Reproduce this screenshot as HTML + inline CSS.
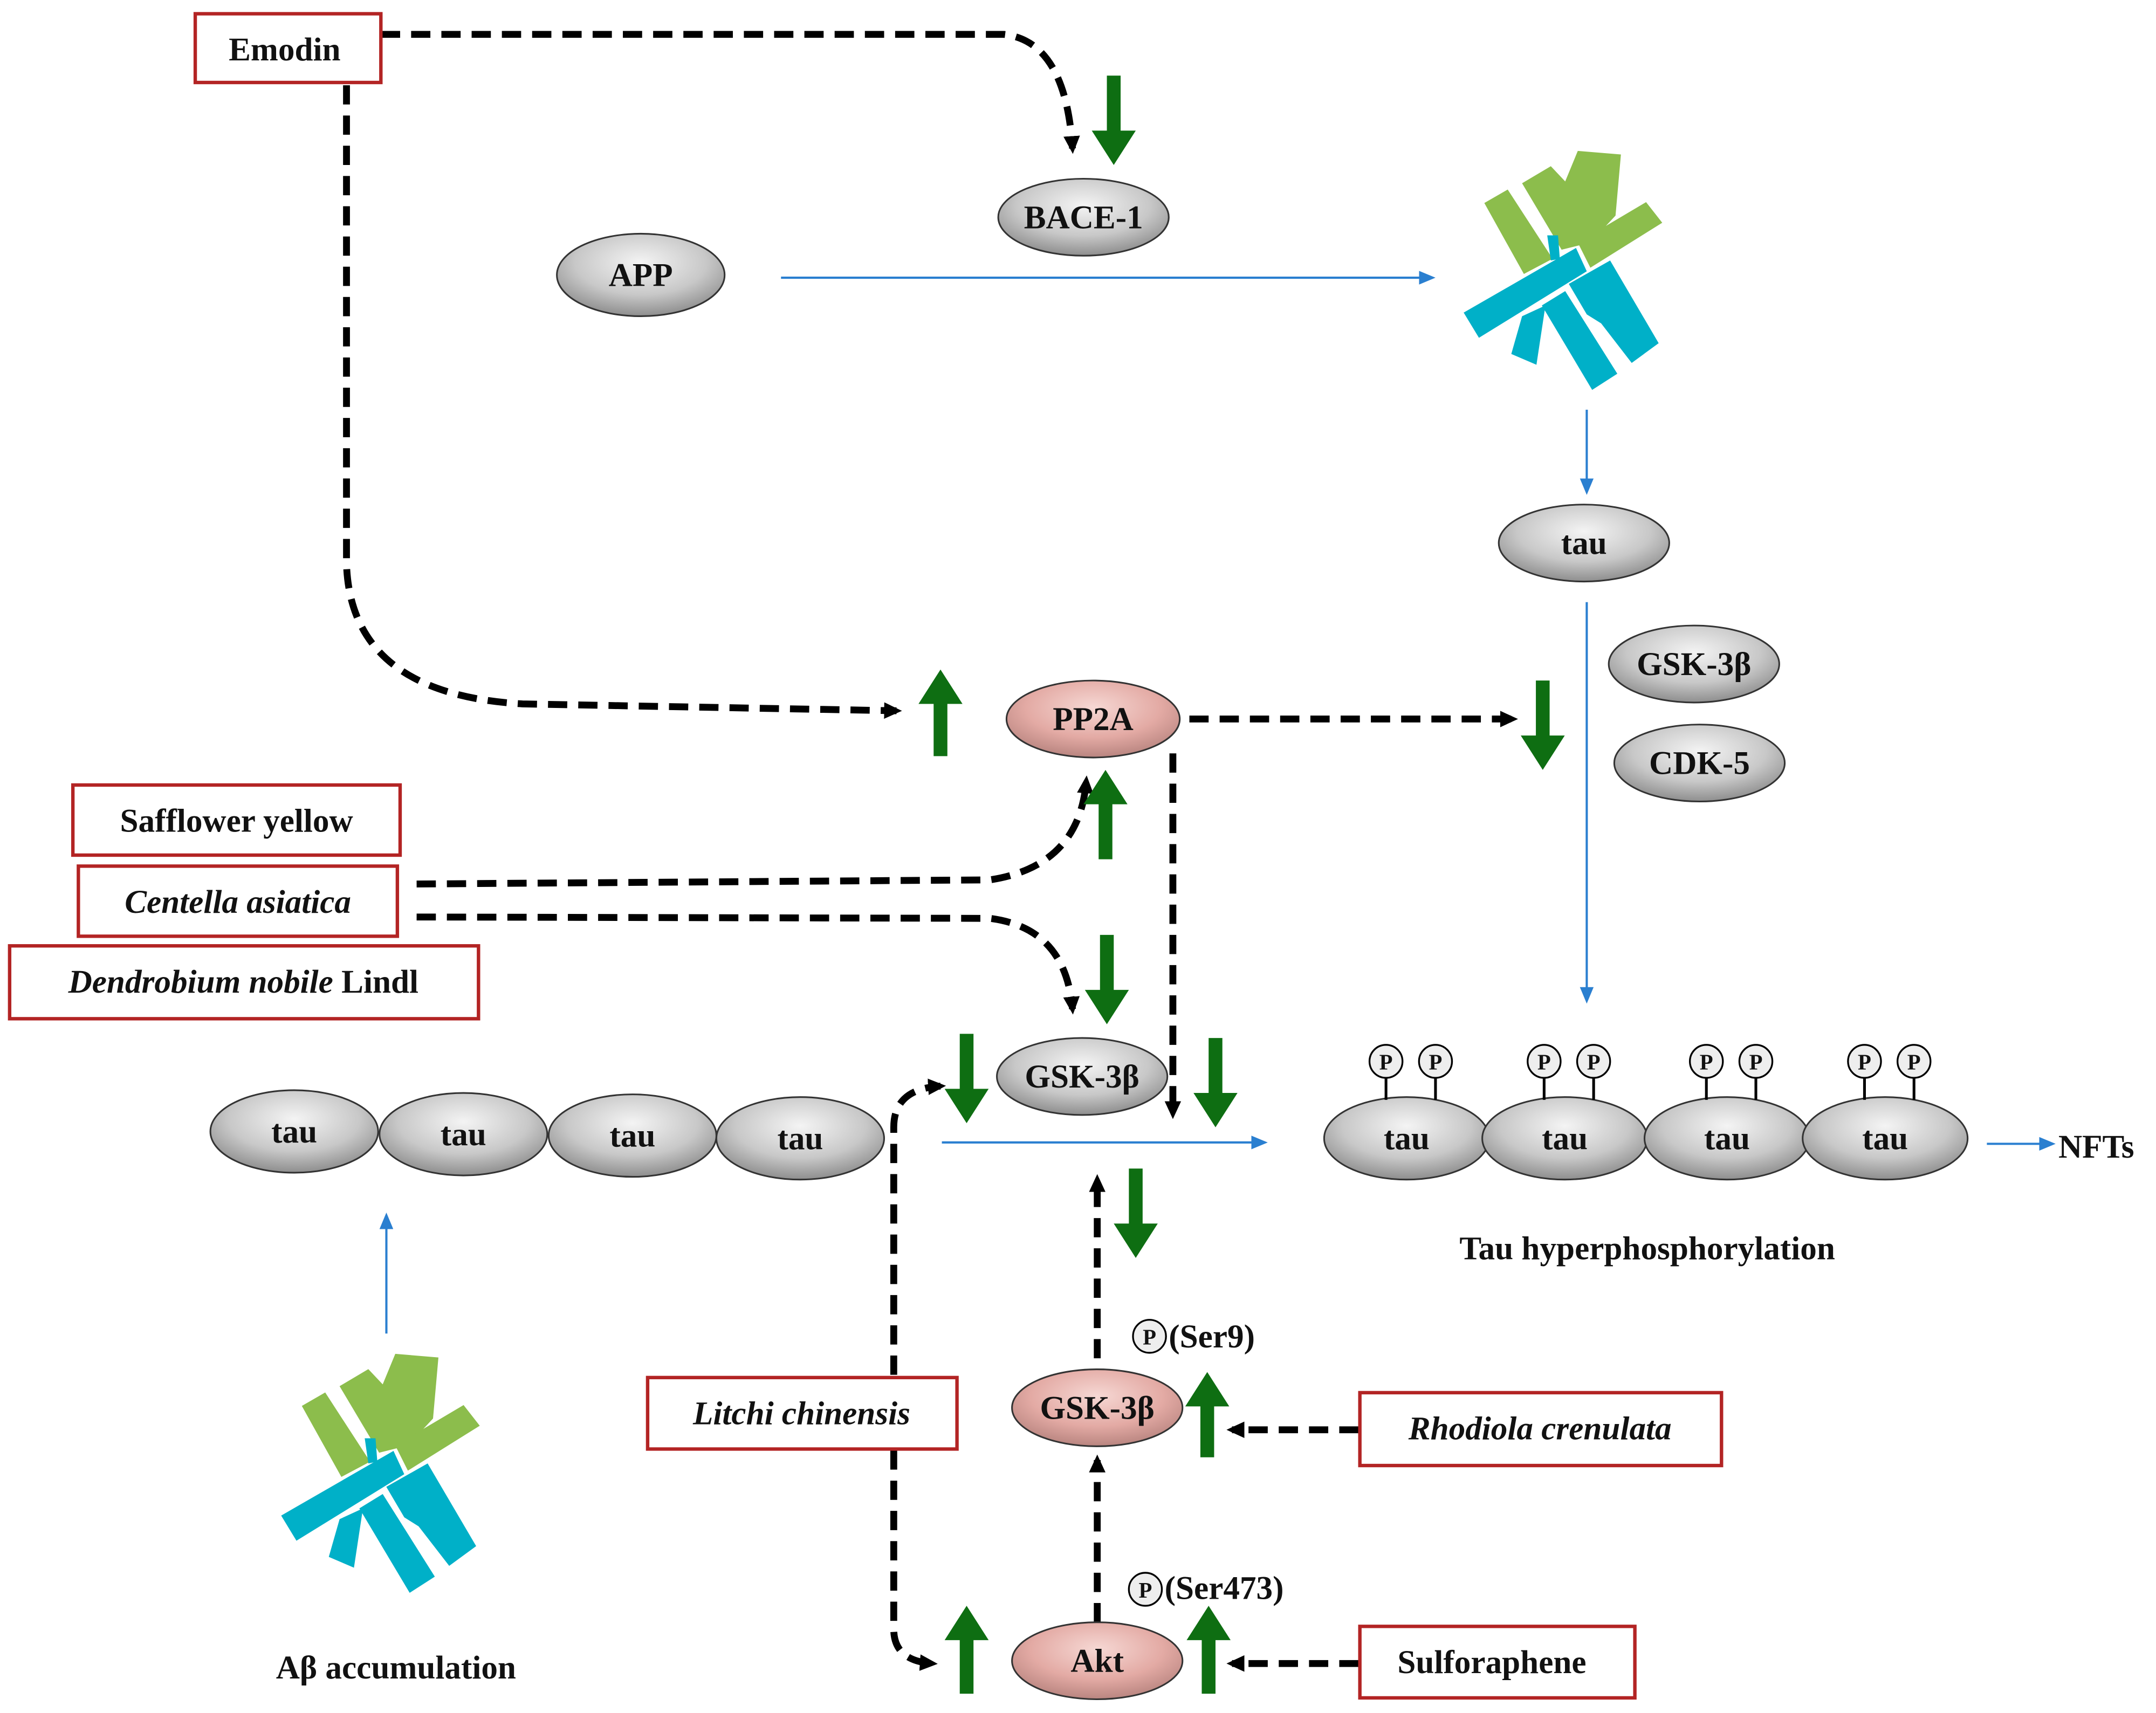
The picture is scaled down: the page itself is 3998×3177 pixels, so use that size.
<!DOCTYPE html>
<html><head><meta charset="utf-8"><style>
html,body{margin:0;padding:0;background:#fff}
svg{display:block}
text{font-family:"Liberation Serif",serif;font-weight:bold;fill:#111}
</style></head><body>
<svg width="3998" height="3177" viewBox="0 0 1568 1246" xmlns="http://www.w3.org/2000/svg">
<defs>
<radialGradient id="g" cx="50%" cy="35%" r="65%"><stop offset="0" stop-color="#f4f4f4"/><stop offset="0.6" stop-color="#c8c8c8"/><stop offset="1" stop-color="#8e8e8e"/></radialGradient>
<radialGradient id="pk" cx="50%" cy="35%" r="65%"><stop offset="0" stop-color="#f6d8d4"/><stop offset="0.6" stop-color="#e3aaa4"/><stop offset="1" stop-color="#b98580"/></radialGradient>
<marker id="ak" markerWidth="14" markerHeight="14" refX="9" refY="7" orient="auto" markerUnits="userSpaceOnUse"><path d="M0,1 L13,7 L0,13 z" fill="#000"/></marker>
<marker id="ab" markerWidth="12" markerHeight="10" refX="10" refY="5" orient="auto" markerUnits="userSpaceOnUse"><path d="M0,0 L12,5 L0,10 z" fill="#2a7fd0"/></marker>
<g id="agg">
<g transform="translate(1039,98) scale(0.1307)">
<polygon fill="#8cbd4c" points="310,380 440,305 690,690 530,775"/>
<polygon fill="#8cbd4c" points="520,270 680,175 760,260 830,90 1070,110 1040,450 900,600 740,640"/>
<polygon fill="#00b0c8" points="660,560 720,560 730,690 680,700"/>
<polygon fill="#8cbd4c" points="830,600 1210,375 1300,490 900,740"/>
<polygon fill="#00b0c8" points="195,990 820,630 880,760 280,1130"/>
<polygon fill="#00b0c8" points="460,1220 520,1010 650,950 600,1280"/>
<polygon fill="#00b0c8" points="630,950 760,870 1050,1330 910,1420"/>
<polygon fill="#00b0c8" points="780,830 1010,700 1280,1160 1130,1270 960,1050 880,1000"/>
</g>
</g>
</defs>

<use href="#agg"/>
<use href="#agg" transform="translate(-860,875)"/>

<g fill="none" stroke="#2a7fd0" stroke-width="1.6">
<line x1="568" y1="202" x2="1042" y2="202" marker-end="url(#ab)"/>
<line x1="1154" y1="298" x2="1154" y2="358" marker-end="url(#ab)"/>
<line x1="1154" y1="438" x2="1154" y2="728" marker-end="url(#ab)"/>
<line x1="685" y1="831" x2="920" y2="831" marker-end="url(#ab)"/>
<line x1="281" y1="970" x2="281" y2="884" marker-end="url(#ab)"/>
<line x1="1445" y1="832" x2="1493" y2="832" marker-end="url(#ab)"/>
</g>

<g fill="none" stroke="#000" stroke-width="5" stroke-dasharray="14,8" marker-end="url(#ak)">
<path d="M277,25 L730,25 Q775,30 780,108"/>
<path d="M252,62 L252,410 Q255,505 380,512 L652,517"/>
<path d="M865,523 L1100,523"/>
<path d="M303,643 L720,640 Q785,630 790,568"/>
<path d="M303,667 L720,668 Q775,675 780,734"/>
<path d="M853,548 L853,810"/>
<path d="M650,1000 L650,820 Q650,792 684,790"/>
<path d="M650,1055 L650,1185 Q650,1208 678,1210"/>
<path d="M798,988 L798,858"/>
<path d="M798,1180 L798,1062"/>
<path d="M988,1040 L896,1040"/>
<path d="M988,1210 L896,1210"/>
</g>

<g fill="#0e6e12">
<polygon points="805,55 815,55 815,95 826,95 810,120 794,95 805,95"/>
<polygon points="679,550 689,550 689,512 700,512 684,487 668,512 679,512"/>
<polygon points="1117,495 1127,495 1127,535 1138,535 1122,560 1106,535 1117,535"/>
<polygon points="799,625 809,625 809,585 820,585 804,560 788,585 799,585"/>
<polygon points="800,680 810,680 810,720 821,720 805,745 789,720 800,720"/>
<polygon points="698,752 708,752 708,792 719,792 703,817 687,792 698,792"/>
<polygon points="879,755 889,755 889,795 900,795 884,820 868,795 879,795"/>
<polygon points="821,850 831,850 831,890 842,890 826,915 810,890 821,890"/>
<polygon points="873,1060 883,1060 883,1023 894,1023 878,998 862,1023 873,1023"/>
<polygon points="698,1232 708,1232 708,1193 719,1193 703,1168 687,1193 698,1193"/>
<polygon points="874,1232 884,1232 884,1193 895,1193 879,1168 863,1193 874,1193"/>
</g>

<g stroke="#333" stroke-width="1.2">
<ellipse cx="788" cy="158" rx="62" ry="28" fill="url(#g)"/>
<ellipse cx="466" cy="200" rx="61" ry="30" fill="url(#g)"/>
<ellipse cx="1152" cy="395" rx="62" ry="28" fill="url(#g)"/>
<ellipse cx="1232" cy="483" rx="62" ry="28" fill="url(#g)"/>
<ellipse cx="1236" cy="555" rx="62" ry="28" fill="url(#g)"/>
<ellipse cx="795" cy="523" rx="63" ry="28" fill="url(#pk)"/>
<ellipse cx="787" cy="783" rx="62" ry="28" fill="url(#g)"/>
<ellipse cx="214" cy="823" rx="61" ry="30" fill="url(#g)"/>
<ellipse cx="337" cy="825" rx="61" ry="30" fill="url(#g)"/>
<ellipse cx="460" cy="826" rx="61" ry="30" fill="url(#g)"/>
<ellipse cx="582" cy="828" rx="61" ry="30" fill="url(#g)"/>
<ellipse cx="1023" cy="828" rx="60" ry="30" fill="url(#g)"/>
<ellipse cx="1138" cy="828" rx="60" ry="30" fill="url(#g)"/>
<ellipse cx="1256" cy="828" rx="60" ry="30" fill="url(#g)"/>
<ellipse cx="1371" cy="828" rx="60" ry="30" fill="url(#g)"/>
<ellipse cx="798" cy="1024" rx="62" ry="28" fill="url(#pk)"/>
<ellipse cx="798" cy="1208" rx="62" ry="28" fill="url(#pk)"/>
</g>

<g stroke="#000" stroke-width="2" fill="#eee">
<line x1="1008" y1="784" x2="1008" y2="800"/><line x1="1044" y1="784" x2="1044" y2="800"/>
<line x1="1123" y1="784" x2="1123" y2="800"/><line x1="1159" y1="784" x2="1159" y2="800"/>
<line x1="1241" y1="784" x2="1241" y2="800"/><line x1="1277" y1="784" x2="1277" y2="800"/>
<line x1="1356" y1="784" x2="1356" y2="800"/><line x1="1392" y1="784" x2="1392" y2="800"/>
<g stroke-width="1.3">
<circle cx="1008" cy="772" r="12"/><circle cx="1044" cy="772" r="12"/>
<circle cx="1123" cy="772" r="12"/><circle cx="1159" cy="772" r="12"/>
<circle cx="1241" cy="772" r="12"/><circle cx="1277" cy="772" r="12"/>
<circle cx="1356" cy="772" r="12"/><circle cx="1392" cy="772" r="12"/>
<circle cx="836" cy="972" r="12"/><circle cx="833" cy="1156" r="12"/>
</g>
</g>
<g font-size="16" text-anchor="middle">
<text x="1008" y="778">P</text><text x="1044" y="778">P</text>
<text x="1123" y="778">P</text><text x="1159" y="778">P</text>
<text x="1241" y="778">P</text><text x="1277" y="778">P</text>
<text x="1356" y="778">P</text><text x="1392" y="778">P</text>
<text x="836" y="978">P</text><text x="833" y="1162">P</text>
</g>

<g fill="#fff" stroke="#b32424" stroke-width="2.5">
<rect x="142" y="10" width="135" height="50"/>
<rect x="53" y="571" width="238" height="51"/>
<rect x="57" y="630" width="232" height="51"/>
<rect x="7" y="688" width="341" height="53"/>
<rect x="471" y="1002" width="225" height="52"/>
<rect x="989" y="1013" width="263" height="53"/>
<rect x="989" y="1183" width="200" height="52"/>
</g>

<g font-size="24" text-anchor="middle">
<text x="207" y="44">Emodin</text>
<text x="788" y="166">BACE-1</text>
<text x="466" y="208">APP</text>
<text x="1152" y="403">tau</text>
<text x="1232" y="491">GSK-3β</text>
<text x="1236" y="563">CDK-5</text>
<text x="795" y="531">PP2A</text>
<text x="787" y="791">GSK-3β</text>
<text x="214" y="831">tau</text><text x="337" y="833">tau</text><text x="460" y="834">tau</text><text x="582" y="836">tau</text>
<text x="1023" y="836">tau</text><text x="1138" y="836">tau</text><text x="1256" y="836">tau</text><text x="1371" y="836">tau</text>
<text x="798" y="1032">GSK-3β</text>
<text x="798" y="1216">Akt</text>
<text x="172" y="605">Safflower  yellow</text>
<text x="173" y="664" font-style="italic">Centella asiatica</text>
<text x="177" y="722"><tspan font-style="italic">Dendrobium nobile</tspan> Lindl</text>
<text x="583" y="1036" font-style="italic">Litchi chinensis</text>
<text x="1120" y="1047" font-style="italic">Rhodiola crenulata</text>
<text x="1085" y="1217">Sulforaphene</text>
<text x="1198" y="916">Tau hyperphosphorylation</text>
<text x="288" y="1221">Aβ accumulation</text>
</g>
<g font-size="24">
<text x="1497" y="842">NFTs</text>
<text x="850" y="980">(Ser9)</text>
<text x="847" y="1163">(Ser473)</text>
</g>
</svg>
</body></html>
